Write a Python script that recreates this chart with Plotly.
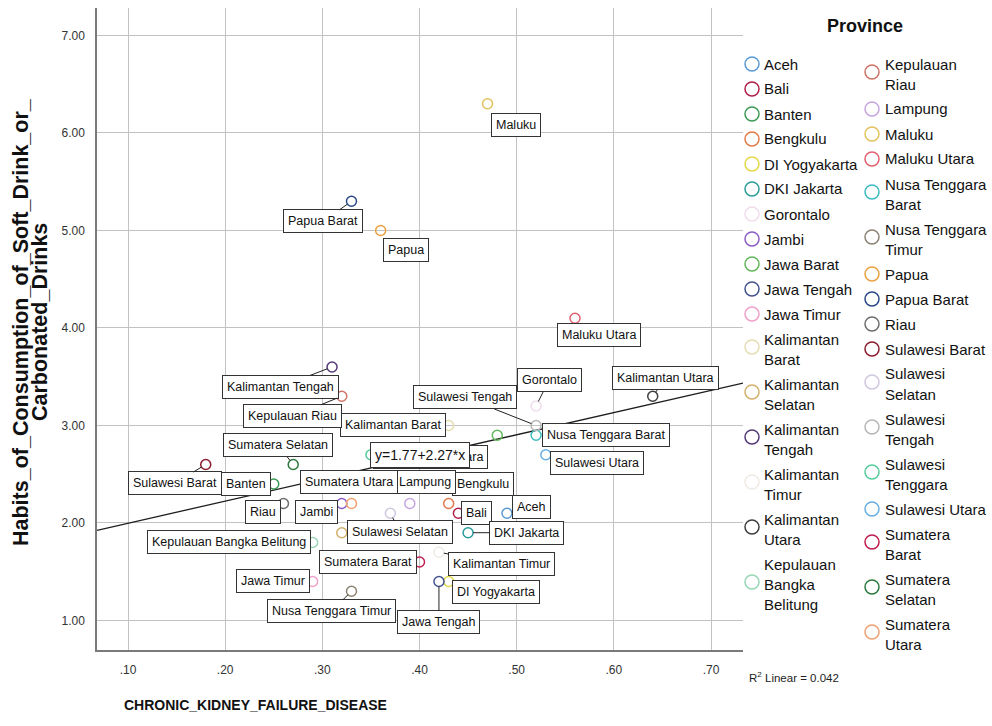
import plotly.graph_objects as go

# ---------------- data ----------------
provinces = [
    "Aceh", "Bali", "Banten", "Bengkulu", "DI Yogyakarta", "DKI Jakarta",
    "Gorontalo", "Jambi", "Jawa Barat", "Jawa Tengah", "Jawa Timur",
    "Kalimantan Barat", "Kalimantan Selatan", "Kalimantan Tengah",
    "Kalimantan Timur", "Kalimantan Utara", "Kepulauan Bangka Belitung",
    "Kepulauan Riau", "Lampung", "Maluku", "Maluku Utara",
    "Nusa Tenggara Barat", "Nusa Tenggara Timur", "Papua", "Papua Barat",
    "Riau", "Sulawesi Barat", "Sulawesi Selatan", "Sulawesi Tengah",
    "Sulawesi Tenggara", "Sulawesi Utara", "Sumatera Barat",
    "Sumatera Selatan", "Sumatera Utara",
]
ckd = [
    0.49, 0.44, 0.25, 0.43, 0.43, 0.45,
    0.52, 0.32, 0.48, 0.42, 0.29,
    0.43, 0.32, 0.31,
    0.42, 0.64, 0.29,
    0.32, 0.39, 0.47, 0.56,
    0.52, 0.33, 0.36, 0.33,
    0.26, 0.18, 0.37, 0.52,
    0.35, 0.53, 0.40,
    0.27, 0.33,
]
soft_drink = [
    2.1, 2.1, 2.4, 2.2, 1.4, 1.9,
    3.2, 2.2, 2.9, 1.4, 1.4,
    3.0, 1.9, 3.6,
    1.7, 3.3, 1.8,
    3.3, 2.2, 6.3, 4.1,
    2.9, 1.3, 5.0, 5.3,
    2.2, 2.6, 2.1, 3.0,
    2.7, 2.7, 1.6,
    2.6, 2.2,
]
legend_labels = [
    "Aceh", "Bali", "Banten", "Bengkulu", "DI Yogyakarta", "DKI Jakarta",
    "Gorontalo", "Jambi", "Jawa Barat", "Jawa Tengah", "Jawa Timur",
    "Kalimantan\nBarat", "Kalimantan\nSelatan", "Kalimantan\nTengah",
    "Kalimantan\nTimur", "Kalimantan\nUtara", "Kepulauan\nBangka\nBelitung",
    "Kepulauan\nRiau", "Lampung", "Maluku", "Maluku Utara",
    "Nusa Tenggara\nBarat", "Nusa Tenggara\nTimur", "Papua", "Papua Barat",
    "Riau", "Sulawesi Barat", "Sulawesi\nSelatan", "Sulawesi\nTengah",
    "Sulawesi\nTenggara", "Sulawesi Utara", "Sumatera\nBarat",
    "Sumatera\nSelatan", "Sumatera\nUtara",
]
x_tick_vals = [0.10, 0.20, 0.30, 0.40, 0.50, 0.60, 0.70]
x_tick_text = [".10", ".20", ".30", ".40", ".50", ".60", ".70"]
y_tick_vals = [1, 2, 3, 4, 5, 6, 7]
y_tick_text = ["1.00", "2.00", "3.00", "4.00", "5.00", "6.00", "7.00"]
fit_intercept = 1.77
fit_slope = 2.27
r_squared = 0.042
x_title = "CHRONIC_KIDNEY_FAILURE_DISEASE"
y_title_lines = ["Habits_of_Consumption_of_Soft_Drink_or_", "Carbonated_Drinks"]
legend_title = "Province"

# ---------------- styles ----------------
colors = [
    "#5b9bd5", "#b0204a", "#3b9a55", "#e07a4a", "#e2d84a", "#2a9c9a",
    "#f0dcec", "#8a5cc4", "#62b85a", "#43538f", "#f0a0c8",
    "#e4ddb0", "#d2b068", "#553a78", "#efebe4", "#3e3e3e", "#98d6b6",
    "#cf7466", "#c6a6e0", "#e2c25e", "#e2606e", "#3cbcc0", "#8c8272",
    "#eaa040", "#2a4888", "#6e6e6e", "#8c1c2e", "#cfc6e0", "#b6b6b6",
    "#56cc9c", "#6aaee0", "#c01e50", "#2c7a3c", "#f2a070",
]
FONT = "Liberation Sans, Arial, sans-serif"

# label placement: (dx, dy) pixel offset of label centre from point, leader line
label_place = {
    "Maluku": (28, 21, False),
    "Papua Barat": (-28, 20, True),
    "Papua": (25, 20, False),
    "Maluku Utara": (24, 17, False),
    "Kalimantan Tengah": (-52, 20, True),
    "Kepulauan Riau": (-49, 20, True),
    "Kalimantan Barat": (-56, 0, False),
    "Sumatera Selatan": (-15, -19, True),
    "Sulawesi Barat": (-31, 19, True),
    "Banten": (-28, 0, False),
    "Sumatera Utara": (-2, -21, False),
    "Lampung": (15, -21, False),
    "Bengkulu": (34, -19, False),
    "Aceh": (25, -6, True),
    "Bali": (18, 0, False),
    "DKI Jakarta": (58, 0, True),
    "Riau": (-20, 9, False),
    "Jambi": (-25, 9, False),
    "Sulawesi Selatan": (10, 19, True),
    "Kepulauan Bangka Belitung": (-84, 0, False),
    "Sumatera Barat": (-52, 0, False),
    "Kalimantan Timur": (63, 12, True),
    "Jawa Timur": (-40, 0, False),
    "Nusa Tenggara Timur": (-20, 20, True),
    "Jawa Tengah": (0, 41, True),
    "DI Yogyakarta": (47, 11, False),
    "Gorontalo": (13, -26, True),
    "Sulawesi Tengah": (-71, -28, True),
    "Nusa Tenggara Barat": (70, 0, False),
    "Sulawesi Utara": (51, 8, False),
    "Kalimantan Utara": (13, -18, True),
    "Sulawesi Tenggara": (60, 2, False),
}

# plot-area geometry (pixels)
L, R, T, B = 97, 743, 8, 650
W, H = R - L, B - T


def pxx(px):
    return (px - L) / W


def pxy(py):
    return (B - py) / H


x_range = [0.0681, 0.7329]
y_range = [0.697, 7.282]

fig = go.Figure()

# regression line
fig.add_trace(go.Scatter(
    x=x_range,
    y=[fit_intercept + fit_slope * v for v in x_range],
    mode="lines", line=dict(color="#1e1e1e", width=1.3),
    hoverinfo="skip", showlegend=False,
))

# points
for name, xv, yv, col in zip(provinces, ckd, soft_drink, colors):
    fig.add_trace(go.Scatter(
        x=[xv], y=[yv], mode="markers", name=name,
        marker=dict(symbol="circle-open", size=10, color=col,
                    line=dict(width=1.5, color=col)),
        showlegend=False,
    ))

annotations = []
label_font = dict(family=FONT, size=12.5, color="#111")
for name, xv, yv in zip(provinces, ckd, soft_drink):
    if name not in label_place:
        continue
    dx, dy, leader = label_place[name]
    a = dict(x=xv, y=yv, xref="x", yref="y", text=name, font=label_font,
             bgcolor="white", bordercolor="#333", borderwidth=1, borderpad=4)
    if leader:
        a.update(showarrow=True, ax=dx, ay=dy, axref="pixel", ayref="pixel",
                 arrowhead=0, arrowwidth=1, arrowcolor="#222", standoff=5)
    else:
        a.update(showarrow=False, xshift=dx, yshift=-dy)
    annotations.append(a)

# equation label
annotations.append(dict(
    x=0.4005, y=2.697, xref="x", yref="y", showarrow=False,
    text=f"y={fit_intercept:.2f}+{fit_slope:.2f}*x",
    font=dict(family=FONT, size=14, color="#111"),
    bgcolor="white", bordercolor="#333", borderwidth=1, borderpad=4,
))

# R^2
annotations.append(dict(
    x=pxx(747), y=pxy(677), xref="paper", yref="paper", showarrow=False,
    xanchor="left", yanchor="middle",
    text=f"R<sup>2</sup> Linear = {r_squared:.3f}",
    font=dict(family=FONT, size=11.5, color="#222"),
))

# axis titles
annotations.append(dict(
    x=pxx(255), y=pxy(705), xref="paper", yref="paper", showarrow=False,
    text=f"<b>{x_title}</b>", font=dict(family=FONT, size=14, color="#111"),
    xanchor="center", yanchor="middle",
))
for i, line in enumerate(y_title_lines):
    annotations.append(dict(
        x=pxx(21 + 19 * i), y=pxy(322), xref="paper", yref="paper",
        showarrow=False, text=f"<b>{line}</b>", textangle=-90,
        font=dict(family=FONT, size=21.5, color="#111"),
        xanchor="center", yanchor="middle",
    ))

# legend (custom, two columns)
annotations.append(dict(
    x=pxx(865), y=pxy(26), xref="paper", yref="paper", showarrow=False,
    text=f"<b>{legend_title}</b>", font=dict(family=FONT, size=18, color="#111"),
    xanchor="center", yanchor="middle",
))
shapes = []
half = 17
cols = [(752, 762), (872, 883)]
for c in range(2):
    cx, tx = cols[c]
    y0 = 64
    for k in range(c * half, min((c + 1) * half, len(provinces))):
        lines = legend_labels[k].split("\n")
        n = len(lines)
        cy = y0 if n == 1 else y0 + 10 * (n - 1) - 2
        shapes.append(dict(
            type="circle", xref="paper", yref="paper",
            x0=pxx(cx - 7), x1=pxx(cx + 7), y0=pxy(cy + 7), y1=pxy(cy - 7),
            line=dict(color=colors[k], width=1.5), fillcolor="rgba(0,0,0,0)",
        ))
        for j, ln in enumerate(lines):
            annotations.append(dict(
                x=pxx(tx), y=pxy(y0 + 20 * j), xref="paper", yref="paper",
                showarrow=False, text=ln, xanchor="left", yanchor="middle",
                font=dict(family=FONT, size=15, color="#111"),
            ))
        y0 += 25 + 20 * (n - 1)

fig.update_layout(
    width=992, height=726,
    margin=dict(l=L, r=992 - R, t=T, b=726 - B),
    plot_bgcolor="white", paper_bgcolor="white",
    showlegend=False,
    annotations=annotations,
    shapes=shapes,
    xaxis=dict(
        range=x_range, tickvals=x_tick_vals, ticktext=x_tick_text,
        showgrid=True, gridcolor="#c2c2c2", gridwidth=1,
        showline=True, linecolor="#7a7a7a", linewidth=1.5,
        zeroline=False, ticks="", ticklabelstandoff=8,
        tickfont=dict(family=FONT, size=12, color="#333"),
    ),
    yaxis=dict(
        range=y_range, tickvals=y_tick_vals, ticktext=y_tick_text,
        showgrid=True, gridcolor="#c2c2c2", gridwidth=1,
        showline=True, linecolor="#7a7a7a", linewidth=1.5,
        zeroline=False, ticks="", ticklabelstandoff=8,
        tickfont=dict(family=FONT, size=12, color="#333"),
    ),
)

fig.write_html(
    "out.html",
    config={"displayModeBar": False},
    post_script="document.body.style.margin='0';document.body.style.overflow='hidden';",
)
